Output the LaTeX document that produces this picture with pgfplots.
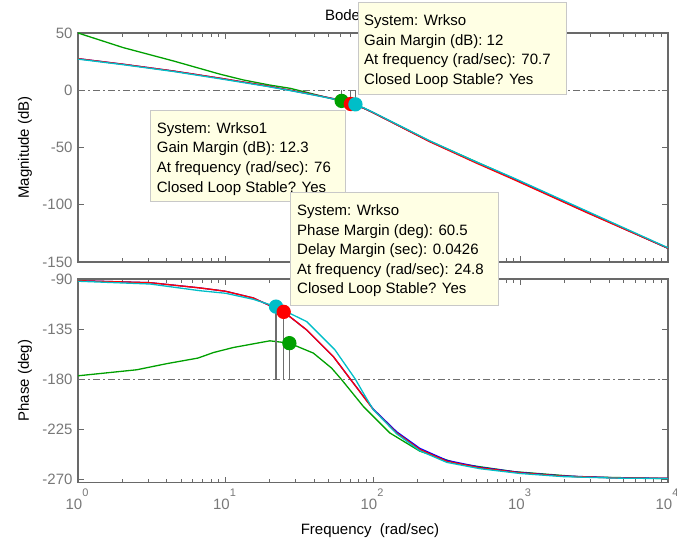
\documentclass[border=0pt]{standalone}
\usepackage{fontspec}
\setmainfont{Liberation Sans}
\usepackage{pgfplots}
\pgfplotsset{compat=1.18}
\definecolor{axgray}{RGB}{105,105,105}
\definecolor{lblgray}{RGB}{120,120,120}
\definecolor{refgray}{RGB}{110,110,110}
\definecolor{mred}{RGB}{255,0,0}
\definecolor{mblue}{RGB}{0,0,255}
\definecolor{mcyan}{RGB}{0,190,200}
\definecolor{mgreen}{RGB}{0,160,0}
\definecolor{tipfill}{RGB}{255,255,228}
\definecolor{tipedge}{RGB}{200,200,200}
\newcommand{\dec}[1]{10\raisebox{13pt}{\fontsize{11}{12}\selectfont #1}}
\pgfplotsset{bodeax/.style={
  scale only axis, width=590pt,
  axis line style={axgray, line width=1.5pt},
  tick style={axgray, line width=1pt},
  major tick length=6pt, minor tick length=4pt,
  tick align=inside,
  xtick={1,10,100,1000,10000},
  ticklabel style={font=\fontsize{15}{18}\selectfont, text=lblgray},
  yticklabel style={anchor=east, xshift=-2pt},
  every axis plot/.append style={line width=1.3pt},
}}
\begin{document}
\begin{tikzpicture}
\path[use as bounding box] (0pt,0pt) rectangle (677pt,-545pt);
\node[anchor=base, font=\fontsize{15}{18}\selectfont] at (373pt,-21pt) {Bode Diagram};
% ---------------- Magnitude ----------------
\begin{semilogxaxis}[bodeax, xmin=1, xmax=10000, at={(78pt,-262pt)}, anchor=south west, height=229pt,
  ymin=-150, ymax=50, ytick={-150,-100,-50,0,50},
  yticklabels={-150,-100,-50,0,50}, xticklabels={}]
\addplot[refgray, line width=1.2pt, dash pattern=on 7pt off 3pt on 2pt off 3pt] coordinates {(1,0) (10000,0)};
\addplot[mgreen] coordinates {(1,50) (2.03,37.2) (4.43,25.6) (9.2,14) (13.2,9) (20,4.5) (27.4,1.7) (40,-3.5) (56.7,-8.5) (61.3,-9.3) (70.7,-12) (86,-15.5) (100,-19.5) (243,-44.5) (500,-62.5) (894,-77) (2810,-106) (10000,-138)};
\addplot[mblue] coordinates {(1,27.6) (2.03,22.7) (4.43,16.8) (9.2,10.5) (19,3.8) (27.4,0) (40,-4) (56.7,-7.9) (70.7,-12) (86,-15.5) (100,-19.5) (243,-44.8) (500,-63) (894,-77.3) (2810,-106.5) (10000,-138)};
\addplot[mred] coordinates {(1,27.6) (2.03,22.7) (4.43,16.8) (9.2,10.5) (19,3.8) (27.4,0) (40,-4) (56.7,-7.9) (70.7,-12) (86,-15.5) (100,-19.6) (243,-45) (500,-63.5) (894,-77.8) (2810,-106.8) (10000,-138)};
\addplot[mcyan] coordinates {(1,27.2) (2.03,22.3) (4.43,16.4) (9.2,10) (19,3.4) (27.4,-0.3) (40,-4.3) (56.7,-8.2) (76,-12.3) (86,-15.2) (100,-19.2) (243,-44.2) (500,-62.5) (894,-76.5) (2810,-105.5) (10000,-137.6)};
\addplot[refgray, line width=1.2pt] coordinates {(61.3,0) (61.3,-9.3)};
\addplot[refgray, line width=1.2pt] coordinates {(70.7,0) (70.7,-12)};
\addplot[refgray, line width=1.2pt] coordinates {(76,0) (76,-12.3)};
\addplot[only marks, mark=*, mark size=6.5pt, mgreen] coordinates {(61.3,-9.3)};
\addplot[only marks, mark=*, mark size=6.5pt, mred] coordinates {(70.7,-12)};
\addplot[only marks, mark=*, mark size=6.5pt, mcyan] coordinates {(76,-12.3)};
\end{semilogxaxis}
% ---------------- Phase ----------------
\begin{semilogxaxis}[bodeax, xmin=1, xmax=10000, at={(78pt,-482.5pt)}, anchor=south west, height=203.5pt,
  ymin=-272.7, ymax=-90, ytick={-270,-225,-180,-135,-90},
  yticklabels={-270,-225,-180,-135,-90},
  xticklabels={\dec{0},\dec{1},\dec{2},\dec{3},\dec{4}},
  xticklabel style={anchor=base, yshift=-26.5pt, xshift=-1pt}]
\addplot[refgray, line width=1.2pt, dash pattern=on 7pt off 3pt on 2pt off 3pt] coordinates {(1,-180) (10000,-180)};
\addplot[mgreen] coordinates {(1,-176.9) (2.5,-171.5) (4,-166) (6.5,-161) (8.3,-156) (11.3,-151.5) (20,-145.5) (27.1,-147.6) (39.4,-156.5) (52.4,-170) (61.3,-180.4) (86,-204.4) (130,-228.2) (208,-244.6) (369,-255.5) (894,-262.9) (2530,-267.6) (10000,-269.2)};
\addplot[mblue] coordinates {(1,-91.5) (3.08,-93.3) (6.7,-98) (10,-101) (15.4,-107) (24.8,-119.5) (35.5,-135.7) (53.8,-159.6) (70.7,-180.4) (100.5,-206.8) (144.8,-227.2) (208,-242.1) (316,-252.8) (531,-259) (993,-263.7) (1941,-266.8) (4240,-268.4) (10000,-269)};
\addplot[mred] coordinates {(1,-91.5) (3.08,-93.3) (6.7,-98) (10,-101) (15.4,-107) (24.8,-119.5) (35.5,-135.7) (53.8,-159.6) (70.7,-180.4) (100.5,-207.3) (144.8,-228.2) (208,-243.1) (316,-253.6) (531,-259.5) (993,-264) (1941,-267) (4240,-268.5) (10000,-269)};
\addplot[mcyan] coordinates {(1,-92) (3.08,-94.5) (6.7,-100.5) (10,-102.8) (15.4,-108.2) (22,-114.8) (35.5,-128.2) (55.2,-153.6) (76,-180) (86,-192.4) (100,-207) (144.8,-229) (208,-244.2) (316,-254.6) (531,-260.3) (993,-264.6) (1941,-267.4) (4240,-268.7) (10000,-269.2)};
\addplot[refgray, line width=1.2pt] coordinates {(22,-114.8) (22,-180)};
\addplot[refgray, line width=1.2pt] coordinates {(24.8,-119.5) (24.8,-180)};
\addplot[refgray, line width=1.2pt] coordinates {(27.1,-147.6) (27.1,-180)};
\addplot[only marks, mark=*, mark size=6.5pt, mgreen] coordinates {(27.1,-147.6)};
\addplot[only marks, mark=*, mark size=6.5pt, mcyan] coordinates {(22,-114.8)};
\addplot[only marks, mark=*, mark size=6.5pt, mred] coordinates {(24.8,-119.5)};
\end{semilogxaxis}
% ---------------- Labels ----------------
\node[rotate=90, anchor=center, font=\fontsize{15}{18}\selectfont] at (25pt,-147.5pt) {Magnitude (dB)};
\node[rotate=90, anchor=center, font=\fontsize{15}{18}\selectfont] at (25pt,-380.5pt) {Phase (deg)};
\node[anchor=base, font=\fontsize{15}{18}\selectfont] at (370pt,-534pt) {Frequency\ \ (rad/sec)};
% ---------------- Data tips ----------------
\begin{scope}[every node/.style={anchor=base west, inner sep=0pt, font=\fontsize{15}{18}\selectfont}]
\draw[tipedge, fill=tipfill, line width=1pt] (358pt,-3pt) rectangle (566pt,-95pt);
\node at (364pt,-25.5pt) {System: Wrkso};
\node at (364pt,-45.3pt) {Gain Margin (dB): 12};
\node at (364pt,-65pt) {At frequency (rad/sec): 70.7};
\node at (364pt,-84.5pt) {Closed Loop Stable? Yes};
\draw[tipedge, fill=tipfill, line width=1pt] (150pt,-110.7pt) rectangle (345pt,-202pt);
\node at (156.7pt,-133.2pt) {System: Wrkso1};
\node at (156.7pt,-153pt) {Gain Margin (dB): 12.3};
\node at (156.7pt,-172.5pt) {At frequency (rad/sec): 76};
\node at (156.7pt,-192.2pt) {Closed Loop Stable? Yes};
\draw[tipedge, fill=tipfill, line width=1pt] (290pt,-192.7pt) rectangle (498pt,-305pt);
\node at (297pt,-215.5pt) {System: Wrkso};
\node at (297pt,-235.3pt) {Phase Margin (deg): 60.5};
\node at (297pt,-255pt) {Delay Margin (sec): 0.0426};
\node at (297pt,-274.3pt) {At frequency (rad/sec): 24.8};
\node at (297pt,-293.8pt) {Closed Loop Stable? Yes};
\end{scope}
\end{tikzpicture}
\end{document}
